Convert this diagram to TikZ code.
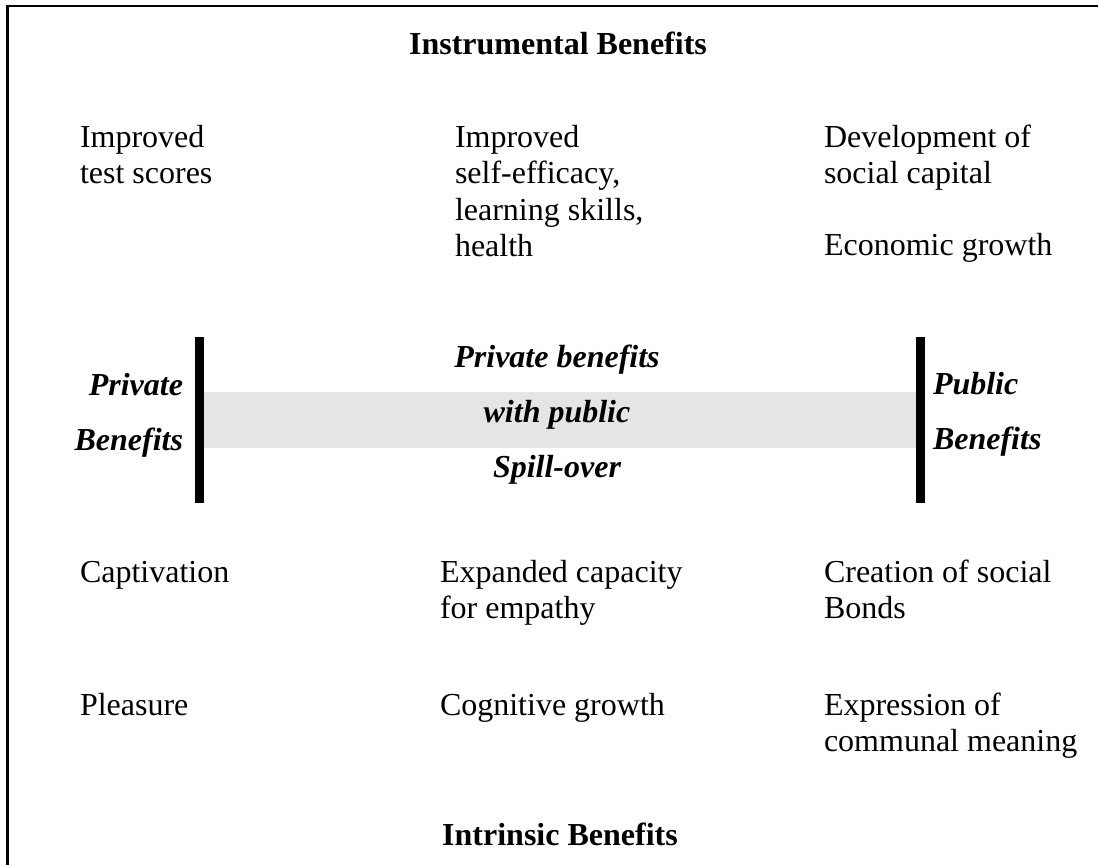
\documentclass[tikz,border=0pt]{standalone}
\usepackage{fontspec}
\setmainfont{Liberation Serif}[BoldFont={* Bold},ItalicFont={* Italic},BoldItalicFont={* Bold Italic}]
\definecolor{bandgrey}{RGB}{229,229,229}
\newcommand{\lft}[1]{\begin{tabular}[t]{@{}l@{}}#1\end{tabular}}
\newcommand{\rgt}[1]{\begin{tabular}[t]{@{}r@{}}#1\end{tabular}}
\newcommand{\ctr}[1]{\begin{tabular}[t]{@{}c@{}}#1\end{tabular}}
\begin{document}
\begin{tikzpicture}[x=1pt,y=-1pt,
  txt/.style={inner sep=0pt, outer sep=0pt, anchor=base west,
    font=\fontsize{32}{36.5}\selectfont},
  ttl/.style={inner sep=0pt, outer sep=0pt, anchor=base,
    font=\fontsize{32}{36.5}\selectfont\bfseries},
  bi/.style={inner sep=0pt, outer sep=0pt,
    font=\fontsize{32}{55}\selectfont\bfseries\itshape},
  bar/.style={fill=black, draw=none}]
\useasboundingbox (0,0) rectangle (1098,865);
% frame (top and left edges)
\draw[line width=2.5pt] (7.5,865) -- (7.5,6) -- (1098,6);
% grey band and bars
\fill[bandgrey] (204,392) rectangle (916,448);
\path[bar] (195,337) rectangle (204,503);
\path[bar] (916,337) rectangle (925,503);
% titles
\node[ttl] (instr) at (558,54) {Instrumental Benefits};
\node[ttl] (intr) at (560,845) {Intrinsic Benefits};
% instrumental items
\node[txt] (i1) at (80,147) {\lft{Improved\\test scores}};
\node[txt] (i2) at (455,147) {\lft{Improved\\self-efficacy,\\learning skills,\\health}};
\node[txt] (i3) at (824,147) {\lft{Development of\\social capital}};
\node[txt] (i4) at (824,255) {Economic growth};
% middle labels
\node[bi, anchor=base east] (priv) at (183,395) {\rgt{Private\\Benefits}};
\node[bi, anchor=base] (spill) at (557,367) {\ctr{Private benefits\\with public\\Spill-over}};
\node[bi, anchor=base west] (pub) at (933,394) {\lft{Public\\Benefits}};
% intrinsic items
\node[txt] (b1) at (80,582) {Captivation};
\node[txt] (b2) at (80,715) {Pleasure};
\node[txt] (b3) at (440,582) {\lft{Expanded capacity\\for empathy}};
\node[txt] (b4) at (440,715) {Cognitive growth};
\node[txt] (b5) at (824,582) {\lft{Creation of social\\Bonds}};
\node[txt] (b6) at (824,715) {\lft{Expression of\\communal meaning}};
\end{tikzpicture}
\end{document}
